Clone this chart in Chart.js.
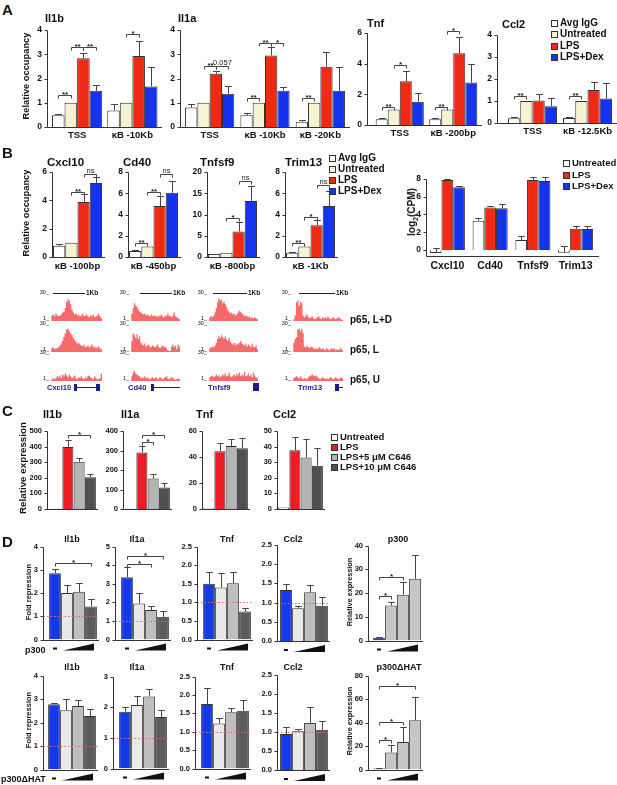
<!DOCTYPE html>
<html>
<head>
<meta charset="utf-8">
<script src="https://cdn.jsdelivr.net/npm/chart.js@4.4.1/dist/chart.umd.min.js"></script>
<style>
  body { margin: 0; width: 617px; height: 785px; position: relative; overflow: hidden; background: #fff;
         font-family: "Liberation Sans", Arial, sans-serif; }
  .t { position: absolute; font-weight: bold; white-space: nowrap; color: #111; line-height: 1; }
  canvas { position: absolute; }
</style>
</head>
<body>
<script>
// ── Data: panel A (ChIP, relative occupancy) ─────────────────────────────────
const A_SERIES   = ['Avg IgG', 'Untreated', 'LPS', 'LPS+Dex'];
const aIl1bCats  = ['TSS', 'κB -10Kb'];
const aIl1bVals  = [[0.48, 0.68], [1, 1], [2.84, 2.93], [1.49, 1.67]];
const aIl1bErr   = [[0.55, 0.93], [1, 1], [3.04, 3.55], [1.72, 2.47]];
const aIl1aCats  = ['TSS', 'κB -10Kb', 'κB -20Kb'];
const aIl1aVals  = [[0.8, 0.48, 0.22], [1, 1, 1], [2.2, 2.95, 2.48], [1.37, 1.5, 1.49]];
const aIl1aErr   = [[0.94, 0.58, 0.3], [1, 1, 1], [2.32, 3.3, 3.1], [1.68, 1.63, 2.48]];
const aTnfCats   = ['TSS', 'κB -200bp'];
const aTnfVals   = [[0.37, 0.37], [1, 1], [2.85, 4.69], [1.52, 2.77]];
const aTnfErr    = [[0.45, 0.48], [1, 1], [3.54, 5.77], [2.08, 3.96]];
const aCcl2Cats  = ['TSS', 'κB -12.5Kb'];
const aCcl2Vals  = [[0.21, 0.22], [1, 1], [1.02, 1.5], [0.76, 1.11]];
const aCcl2Err   = [[0.28, 0.28], [1, 1], [1.32, 1.85], [1.15, 1.8]];

// ── Data: panel B ────────────────────────────────────────────────────────────
const bCxcl10Vals = [[0.8], [1], [3.88], [5.23]];
const bCxcl10Err  = [[0.91], [1], [4.44], [5.65]];
const bCd40Vals   = [[0.56], [1], [4.8], [6.04]];
const bCd40Err    = [[0.65], [1], [5.73], [7.13]];
const bTnfsf9Vals = [[0.7], [1], [6.0], [13.2]];
const bTnfsf9Err  = [[0.8], [1], [8.2], [16.7]];
const bTrim13Vals = [[0.4], [1], [3.0], [4.8]];
const bTrim13Err  = [[0.5], [1], [3.5], [6.2]];

const cpmGenes        = ['Cxcl10', 'Cd40', 'Tnfsf9', 'Trim13'];
const cpmUntreated    = [-0.35, 3.3, 1.13, -0.3];
const cpmLps          = [7.9, 4.8, 7.9, 2.4];
const cpmDex          = [7.07, 4.7, 7.78, 2.36];
const cpmUntreatedErr = [0.25, 3.57, 1.58, 0.49];
const cpmLpsErr       = [7.97, 4.96, 8.27, 2.74];
const cpmDexErr       = [7.18, 5.2, 8.2, 2.74];

// p65 ChIP-seq tracks (signal 1..30)
const cxcl10LD = [0,6,7,5,8,6,5,6,7,9,10,14,20,23,22,18,12,9,7,8,6,7,5,6,8,5,6,7,5,4,6,5,7,4,5,6,8,5,3,0];
const cxcl10L  = [0,4,5,3,4,4,5,7,9,12,16,20,24,25,22,20,18,15,13,11,9,10,8,7,6,8,5,6,7,5,6,8,5,6,4,5,6,4,3,0];
const cxcl10U  = [0,2,3,2,3,5,4,6,3,7,5,8,6,4,7,5,3,4,6,3,2,4,3,5,3,2,4,3,5,6,4,3,2,5,3,2,2,3,8,0];
const cd40LD   = [0,8,14,19,17,15,12,10,9,8,7,8,6,7,6,5,7,6,5,6,5,4,6,5,7,5,4,6,5,8,6,5,4,6,9,5,4,3,2,0];
const cd40L    = [0,12,20,18,15,19,14,17,10,8,7,9,6,7,8,6,5,7,6,5,6,8,5,4,6,7,5,6,4,2,1,1,6,8,5,7,3,8,6,0];
const cd40U    = [0,5,9,11,8,7,6,5,3,4,3,5,3,4,3,2,3,4,3,3,4,2,3,4,3,2,3,4,5,3,2,3,4,3,2,1,2,3,2,0];
const tnfsf9LD = [0,4,5,4,6,9,14,20,24,22,23,19,21,18,15,12,10,8,9,7,8,6,7,9,11,10,8,7,5,6,5,4,5,3,4,3,4,3,2,0];
const tnfsf9L  = [0,4,5,6,5,7,10,14,17,15,18,16,14,17,13,12,15,11,9,8,10,7,9,8,10,12,9,8,7,9,6,8,7,5,9,6,5,7,3,0];
const tnfsf9U  = [0,4,5,6,4,5,7,5,6,4,5,7,6,8,5,6,9,5,4,6,7,5,8,6,9,5,7,6,10,5,6,8,5,7,4,9,6,4,3,0];
const trim13LD = [0,2,6,20,22,16,21,19,6,4,5,7,4,3,4,5,3,2,3,4,5,3,2,4,3,4,3,5,3,2,3,4,3,2,3,4,3,2,1,0];
const trim13L  = [0,10,14,16,24,25,22,25,20,6,5,7,5,4,6,5,4,3,4,3,5,4,3,4,3,2,4,3,2,3,4,3,4,2,3,2,3,4,2,0];
const trim13U  = [0,3,4,5,4,3,5,3,2,3,3,2,4,5,6,7,6,5,6,4,3,2,3,4,3,2,3,2,3,4,3,2,3,4,3,2,3,4,3,0];

// ── Data: panel C (C646) ─────────────────────────────────────────────────────
const C_SERIES  = ['Untreated', 'LPS', 'LPS+5 μM C646', 'LPS+10 μM C646'];
const cIl1b     = [1, 398, 303, 203];
const cIl1bErr  = [1, 445, 330, 225];
const cIl1a     = [1, 290, 157, 110];
const cIl1aErr  = [1, 323, 179, 132];
const cTnf      = [0.6, 44.5, 48.4, 46.8];
const cTnfErr   = [0.6, 50.4, 53.7, 54.6];
const cCcl2     = [1, 37.6, 33, 27.8];
const cCcl2Err  = [1, 46.1, 44.8, 38.8];

// ── Data: panel D (fold repression, p300 / p300ΔHAT dose) ───────────────────
const DOSE      = ['-', 'low', 'mid', 'high'];
const dIl1b     = [2.85, 2.0, 2.05, 1.42];
const dIl1bErr  = [3.03, 2.35, 2.42, 1.73];
const dIl1a     = [3.35, 1.93, 1.58, 1.22];
const dIl1aErr  = [3.92, 2.5, 1.82, 1.52];
const dTnf      = [1.5, 1.4, 1.51, 0.75];
const dTnfErr   = [1.82, 1.8, 1.82, 0.86];
const dCcl2     = [1.33, 0.85, 1.27, 0.92];
const dCcl2Err  = [1.48, 0.9, 1.47, 1.15];
const dP300     = [1.2, 14.7, 19.3, 26];
const dP300Err  = [1.6, 16.3, 24.8, 35.8];
const hIl1b     = [2.78, 2.52, 2.7, 2.28];
const hIl1bErr  = [2.82, 3.02, 2.97, 2.58];
const hIl1a     = [1.85, 2.07, 2.35, 1.68];
const hIl1aErr  = [2.02, 2.37, 2.6, 1.92];
const hTnf      = [1.75, 1.22, 1.53, 1.57];
const hTnfErr   = [2.2, 1.38, 1.65, 1.85];
const hCcl2     = [0.95, 1.02, 1.24, 1.06];
const hCcl2Err  = [1.13, 1.08, 1.66, 1.3];
const hP300     = [0.8, 14.5, 23.5, 42];
const hP300Err  = [1.0, 21, 36, 62];

// ── Colours ──────────────────────────────────────────────────────────────────
const WHITE = '#ffffff', CREAM = '#f7f3d2', RED = '#ef2a14', BLUE = '#1433ee';
const A_COLORS = [WHITE, CREAM, RED, BLUE];
const C_COLORS = [WHITE, '#ee1c24', '#b5b5b5', '#505050'];
const D_COLORS = ['#1639e6', '#e9e9e9', '#bebebe', '#5c5c5c'];
const P_COLORS = ['#1639e6', '#c6c6c6', '#c6c6c6', '#c6c6c6'];
const TRACK = '#f56b6b', NAVY = '#1b1b8a';

Chart.defaults.font.family = '"Liberation Sans", Arial, sans-serif';
Chart.defaults.color = '#111';

// ── Helpers ──────────────────────────────────────────────────────────────────
function label(text, x, y, size, o = {}) {
  const d = document.createElement('div');
  d.className = 't';
  d.innerHTML = text;
  d.style.fontSize = size + 'px';
  d.style.left = x + 'px';
  d.style.top  = (y - size / 2) + 'px';
  if (o.align === 'c') d.style.transform = 'translateX(-50%)';
  if (o.align === 'r') d.style.transform = 'translateX(-100%)';
  if (o.rot) { d.style.top = y + 'px'; d.style.transform = 'translate(-50%, -50%) rotate(-90deg)'; }
  if (o.color)  d.style.color = o.color;
  if (o.normal) d.style.fontWeight = 'normal';
  document.body.appendChild(d);
}

function box(x, y, w, h, bg, border) {
  const b = document.createElement('div');
  b.style.cssText = `position:absolute;left:${x}px;top:${y}px;width:${w}px;height:${h}px;background:${bg};` +
                    (border ? `border:1px solid ${border};` : '');
  document.body.appendChild(b);
}

function legend(x, y0, dy, names, colors, size) {
  names.forEach((n, i) => {
    box(x, y0 + i * dy - 3, 5, 5, colors[i], '#333');
    label(n, x + 9, y0 + i * dy, size);
  });
}

// prism-like axes, error bars, brackets, dotted reference, dose wedge
function prism(cfg, gap) {
  return {
    id: 'prism',
    afterDatasetsDraw(chart) {
      const { ctx, chartArea: a, scales: { y } } = chart;
      const ax = Math.round(a.left - gap) + 0.5;
      const bot = Math.round(a.bottom) + 0.5;
      ctx.save();
      ctx.strokeStyle = '#333';
      ctx.lineWidth = 1;
      ctx.beginPath();
      ctx.moveTo(ax, Math.round(y.getPixelForValue(cfg.max)) + 0.5);
      ctx.lineTo(ax, bot);
      ctx.lineTo(a.right + 2, bot);
      y.ticks.forEach(t => {
        const py = Math.round(y.getPixelForValue(t.value)) + 0.5;
        ctx.moveTo(ax - 3, py); ctx.lineTo(ax, py);
      });
      ctx.stroke();

      if (cfg.ref) {
        ctx.save();
        ctx.strokeStyle = '#e06a6a';
        ctx.setLineDash([1.5, 2]);
        ctx.beginPath();
        const py = Math.round(y.getPixelForValue(cfg.ref)) + 0.5;
        ctx.moveTo(ax, py); ctx.lineTo(a.right + 2, py);
        ctx.stroke();
        ctx.restore();
      }

      ctx.strokeStyle = '#444';
      ctx.beginPath();
      cfg.errs.forEach((row, i) => {
        const meta = chart.getDatasetMeta(i);
        row.forEach((e, j) => {
          const v = cfg.vals[i][j];
          if (e <= v) return;
          const el = meta.data[j];
          const x = Math.round(el.x) + 0.5, cw = el.width * 0.28;
          const y1 = Math.round(y.getPixelForValue(e)) + 0.5;
          ctx.moveTo(x, y.getPixelForValue(v)); ctx.lineTo(x, y1);
          ctx.moveTo(x - cw, y1); ctx.lineTo(x + cw, y1);
        });
      });
      ctx.stroke();

      ctx.textAlign = 'center';
      ctx.textBaseline = 'bottom';
      ctx.fillStyle = '#222';
      (cfg.sig || []).forEach(([s1, c1, s2, c2, v, txt]) => {
        const x1 = Math.round(chart.getDatasetMeta(s1).data[c1].x) + 0.5;
        const x2 = Math.round(chart.getDatasetMeta(s2).data[c2].x) + 0.5;
        const py = Math.round(y.getPixelForValue(v)) + 0.5;
        ctx.beginPath();
        ctx.moveTo(x1, py + 3); ctx.lineTo(x1, py); ctx.lineTo(x2, py); ctx.lineTo(x2, py + 3);
        ctx.stroke();
        const plain = txt === 'ns' || txt === '0.057';
        ctx.font = (plain ? '' : 'bold ') + (plain ? 7.5 : 8) + 'px "Liberation Sans", Arial, sans-serif';
        ctx.fillText(txt, (x1 + x2) / 2, py + (plain ? 0 : 3));
      });

      if (cfg.wedge) {
        const d = chart.getDatasetMeta(0).data;
        ctx.fillStyle = '#111';
        ctx.fillRect(Math.round(d[0].x) - 2, a.bottom + 8, 4, 2);
        const x1 = d[1].x - 4, x2 = d[3].x + 3;
        ctx.beginPath();
        ctx.moveTo(x1, a.bottom + 11); ctx.lineTo(x2, a.bottom + 11); ctx.lineTo(x2, a.bottom + 4);
        ctx.closePath();
        ctx.fill();
      }
      ctx.restore();
    },
  };
}

function barChart(cfg) {
  const yw = 22, pt = 14, pr = 6, xh = cfg.xh || 14;
  const gap = cfg.L - cfg.ax;
  const left = cfg.ax - yw, top = cfg.T - pt;
  const canvas = document.createElement('canvas');
  canvas.width  = Math.round(cfg.R + pr - left);
  canvas.height = Math.round(cfg.B + xh - top);
  canvas.style.left = left + 'px';
  canvas.style.top  = top + 'px';
  document.body.appendChild(canvas);

  const datasets = cfg.vals.map((d, i) => ({
    data: d,
    backgroundColor: cfg.colors[i],
    borderColor: '#333',
    borderWidth: 1,
    barPercentage: 1,
    categoryPercentage: cfg.cp,
  }));

  return new Chart(canvas, {
    type: 'bar',
    data: { labels: cfg.cats, datasets },
    options: {
      responsive: false, animation: false, devicePixelRatio: 1,
      layout: { padding: { top: pt, right: pr, left: 0, bottom: 0 } },
      plugins: { legend: { display: false }, tooltip: { enabled: false } },
      scales: {
        x: {
          grid: { display: false, drawTicks: false }, border: { display: false },
          ticks: { display: !!cfg.showCats, padding: cfg.catPad || 3, autoSkip: false, maxRotation: 0,
                   font: { size: cfg.catSize || 9.5, weight: 'bold' } },
          afterFit: s => { s.height = xh; },
        },
        y: {
          min: cfg.min || 0, max: cfg.max,
          grid: { display: false, drawTicks: false }, border: { display: false },
          ticks: { stepSize: cfg.step, includeBounds: false, padding: gap + 5,
                   font: { size: cfg.tickSize || 8.5, weight: 'bold' },
                   callback: cfg.fmt || (v => v) },
          afterFit: s => { s.width = yw + gap; },
        },
      },
    },
    plugins: [prism(cfg, gap)],
  });
}

function track(vals, left, base, w) {
  const h = 28;
  const canvas = document.createElement('canvas');
  canvas.width = w; canvas.height = h;
  canvas.style.left = left + 'px';
  canvas.style.top  = (base - h) + 'px';
  document.body.appendChild(canvas);
  new Chart(canvas, {
    type: 'line',
    data: { labels: vals.map((_, i) => i),
            datasets: [{ data: vals, stepped: true, fill: 'origin', backgroundColor: TRACK,
                         borderColor: TRACK, borderWidth: 0, pointRadius: 0 }] },
    options: {
      responsive: false, animation: false, devicePixelRatio: 1,
      plugins: { legend: { display: false }, tooltip: { enabled: false } },
      scales: { x: { display: false }, y: { display: false, min: 0, max: 30 } },
    },
  });
}

// ── Panel A ──────────────────────────────────────────────────────────────────
label('A', 2, 9, 15);
barChart({ ax: 47, L: 49.5, R: 159.5, T: 30, B: 127, max: 4, step: 1, cp: 0.91, showCats: true,
  cats: aIl1bCats, vals: aIl1bVals, errs: aIl1bErr, colors: A_COLORS,
  sig: [[0, 0, 1, 0, 1.3, '**'], [1, 0, 2, 0, 3.3, '**'], [2, 0, 3, 0, 3.3, '**'], [1, 1, 2, 1, 3.82, '*']] });
barChart({ ax: 180, L: 182, R: 348, T: 30, B: 127, max: 4, step: 1, cp: 0.89, showCats: true,
  cats: aIl1aCats, vals: aIl1aVals, errs: aIl1aErr, colors: A_COLORS,
  sig: [[1, 0, 2, 0, 2.52, '**'], [2, 0, 3, 0, 2.52, '0.057'], [0, 1, 1, 1, 1.21, '**'],
        [1, 1, 2, 1, 3.45, '**'], [2, 1, 3, 1, 3.45, '*'], [0, 2, 1, 2, 1.21, '**']] });
barChart({ ax: 367, L: 373, R: 480, T: 31, B: 127, max: 6, step: 2, cp: 0.9, showCats: true,
  cats: aTnfCats, vals: aTnfVals, errs: aTnfErr, colors: A_COLORS,
  sig: [[0, 0, 1, 0, 1.19, '**'], [1, 0, 2, 0, 3.92, '*'], [0, 1, 1, 1, 1.19, '**'], [1, 1, 2, 1, 6.15, '*']] });
barChart({ ax: 497, L: 505, R: 615, T: 31, B: 127, max: 4, step: 1, cp: 0.89, showCats: true,
  cats: aCcl2Cats, vals: aCcl2Vals, errs: aCcl2Err, colors: A_COLORS,
  sig: [[0, 0, 1, 0, 1.21, '**'], [0, 1, 1, 1, 1.21, '**']] });

label('Il1b', 45, 18, 11);
label('Il1a', 178, 18, 11);
label('Tnf', 367, 23, 11);
label('Ccl2', 502, 24, 11);
label('Relative occupancy', 27, 76, 9.3, { rot: true });
legend(551, 23, 11.3, A_SERIES, A_COLORS, 10);

// ── Panel B ──────────────────────────────────────────────────────────────────
label('B', 2, 152, 15);
const bCharts = [
  { ax: 52,  cats: ['κB -100bp'], vals: bCxcl10Vals, errs: bCxcl10Err, max: 6,  step: 2,
    sig: [[1, 0, 2, 0, 4.6, '**'], [2, 0, 3, 0, 5.88, 'ns']] },
  { ax: 128, cats: ['κB -450bp'], vals: bCd40Vals,   errs: bCd40Err,   max: 8,  step: 2,
    sig: [[0, 0, 1, 0, 1.35, '**'], [1, 0, 2, 0, 6.1, '**'], [2, 0, 3, 0, 7.85, 'ns']] },
  { ax: 207, cats: ['κB -800bp'], vals: bTnfsf9Vals, errs: bTnfsf9Err, max: 20, step: 5,
    sig: [[1, 0, 2, 0, 9.1, '*'], [2, 0, 3, 0, 18, 'ns']] },
  { ax: 285, cats: ['κB -1Kb'],   vals: bTrim13Vals, errs: bTrim13Err, max: 8,  step: 2,
    sig: [[0, 0, 1, 0, 1.35, '**'], [1, 0, 2, 0, 3.8, '*'], [2, 0, 3, 0, 6.75, 'ns']] },
];
bCharts.forEach(c => barChart({ ...c, L: c.ax, R: c.ax + 51, T: 172, B: 257, cp: 0.96, showCats: true,
  catPad: 4, xh: 16, colors: A_COLORS }));
label('Cxcl10', 47, 163, 11.5);
label('Cd40', 123, 163, 11.5);
label('Tnfsf9', 200, 163, 11.5);
label('Trim13', 285, 163, 11.5);
label('Relative occupancy', 27, 213, 9.3, { rot: true });
legend(329, 158, 11, A_SERIES, A_COLORS, 10);

barChart({ ax: 426, L: 426, R: 597, T: 179, B: 256, min: -0.68, max: 8, step: 2, cp: 0.82, showCats: true,
  catSize: 10.5, catPad: 4, xh: 17, cats: cpmGenes, vals: [cpmUntreated, cpmLps, cpmDex],
  errs: [cpmUntreatedErr, cpmLpsErr, cpmDexErr], colors: [WHITE, RED, BLUE] });
label('log<sub style="font-size:7px">2</sub>(CPM)', 413, 212, 10, { rot: true });
legend(563, 163, 11.5, ['Untreated', 'LPS', 'LPS+Dex'], [WHITE, RED, BLUE], 9.5);

// ChIP-seq browser tracks
const trackBases = [321, 352, 381];
const trackCols = [
  { x: 50,  w: 52, bar: [53, 85],   name: 'Cxcl10', nameX: 47,  sets: [cxcl10LD, cxcl10L, cxcl10U] },
  { x: 130, w: 50, bar: [140, 172], name: 'Cd40',   nameX: 128, sets: [cd40LD, cd40L, cd40U] },
  { x: 208, w: 50, bar: [213, 247], name: 'Tnfsf9', nameX: 208, sets: [tnfsf9LD, tnfsf9L, tnfsf9U] },
  { x: 292, w: 51, bar: [299, 335], name: 'Trim13', nameX: 298, sets: [trim13LD, trim13L, trim13U] },
];
trackCols.forEach(col => {
  col.sets.forEach((vals, k) => {
    track(vals, col.x, trackBases[k], col.w);
    label('30_', col.x - 1, trackBases[k] - 28, 5.5, { align: 'r', normal: true });
    label('1_', col.x - 1, trackBases[k] - 2, 5.5, { align: 'r', normal: true });
  });
  box(col.bar[0], 293, col.bar[1] - col.bar[0], 1, '#222');
  label('1Kb', col.bar[1] + 1, 293, 6.5);
  label(col.name, col.nameX, 388, 7.5, { color: NAVY });
});
// gene models
box(74, 384, 3, 7, NAVY);  box(77, 387, 19, 1, NAVY);  box(96, 384, 4, 7, NAVY);
box(151, 384, 3, 7, NAVY); box(154, 387, 26, 1, NAVY);
box(253, 383, 6, 8, NAVY);
box(335, 384, 4, 7, NAVY); box(339, 387, 4, 1, NAVY);
label('p65, L+D', 350, 320, 10);
label('p65, L', 350, 350, 10);
label('p65, U', 350, 380, 10);

// ── Panel C ──────────────────────────────────────────────────────────────────
label('C', 2, 410, 15);
const cCharts = [
  { ax: 47,  L: 51,  vals: [cIl1b], errs: [cIl1bErr], max: 500, step: 100,
    sig: [[0, 1, 0, 3, 472, '*']] },
  { ax: 123, L: 125, vals: [cIl1a], errs: [cIl1aErr], max: 400, step: 100,
    sig: [[0, 1, 0, 2, 344, '*'], [0, 1, 0, 3, 381, '*']] },
  { ax: 202, L: 203, vals: [cTnf],  errs: [cTnfErr],  max: 60,  step: 20 },
  { ax: 277, L: 278, vals: [cCcl2], errs: [cCcl2Err], max: 50,  step: 10 },
];
cCharts.forEach(c => barChart({ ...c, R: c.L + 45, T: 431, B: 509, cp: 0.98, tickSize: 7.5,
  cats: C_SERIES, colors: [C_COLORS] }));
label('Il1b', 43, 414, 11);
label('Il1a', 121, 414, 11);
label('Tnf', 196, 414, 11);
label('Ccl2', 273, 414, 11);
label('Relative expression', 23, 468, 9.8, { rot: true });
legend(331, 437, 10, C_SERIES, C_COLORS, 9.5);

// ── Panel D ──────────────────────────────────────────────────────────────────
label('D', 2, 541, 15);
const fmt1 = v => v.toFixed(1);
const dRows = [
  { T: 545, B: 641, charts: [
    { ax: 43,  L: 49,  vals: [dIl1b], errs: [dIl1bErr], max: 4,   step: 1,   ref: 1, sig: [[0, 0, 0, 3, 3.3, '*']] },
    { ax: 115, L: 121, vals: [dIl1a], errs: [dIl1aErr], max: 5,   step: 1,   ref: 1,
      sig: [[0, 0, 0, 2, 4.08, '*'], [0, 0, 0, 3, 4.48, '*']] },
    { ax: 197, L: 203, vals: [dTnf],  errs: [dTnfErr],  max: 2.5, step: 0.5, ref: 1, fmt: fmt1 },
    { ax: 277, L: 280, vals: [dCcl2], errs: [dCcl2Err], max: 2.5, step: 0.5, ref: 1, fmt: fmt1 },
    { ax: 368, L: 373, vals: [dP300], errs: [dP300Err], max: 40,  step: 10,  p: true,
      sig: [[0, 0, 0, 1, 18.9, '*'], [0, 0, 0, 2, 26.9, '*']] },
  ] },
  { T: 675, B: 770, charts: [
    { ax: 43,  L: 48,  vals: [hIl1b], errs: [hIl1bErr], max: 4,   step: 1,   ref: 1 },
    { ax: 113, L: 119, vals: [hIl1a], errs: [hIl1aErr], max: 3,   step: 1,   ref: 1 },
    { ax: 195, L: 201, vals: [hTnf],  errs: [hTnfErr],  max: 2.5, step: 0.5, ref: 1, fmt: fmt1 },
    { ax: 277, L: 280, vals: [hCcl2], errs: [hCcl2Err], max: 2.5, step: 0.5, ref: 1, fmt: fmt1 },
    { ax: 368, L: 373, vals: [hP300], errs: [hP300Err], max: 80,  step: 20,  p: true,
      sig: [[0, 0, 0, 1, 25, '*'], [0, 0, 0, 2, 40.3, '*'], [0, 0, 0, 3, 71, '*']] },
  ] },
];
dRows.forEach(row => row.charts.forEach(c => barChart({ ...c, R: c.L + 48, T: row.T, B: row.B, cp: 0.98,
  tickSize: 7.5, wedge: true, cats: DOSE, colors: [c.p ? P_COLORS : D_COLORS] })));

[['Il1b', 72], ['Il1a', 137], ['Tnf', 227], ['Ccl2', 293], ['p300', 398]].forEach(([t, x]) => label(t, x, 539, 9, { align: 'c' }));
[['Il1b', 72], ['Il1a', 137], ['Tnf', 227], ['Ccl2', 293], ['p300ΔHAT', 399]].forEach(([t, x]) => label(t, x, 667, 9, { align: 'c' }));
label('Fold repression', 29, 592, 7.5, { rot: true });
label('Fold repression', 29, 720, 7.5, { rot: true });
label('Relative expression', 350, 592, 7.3, { rot: true });
label('Relative expression', 350, 721, 7.3, { rot: true });
label('p300', 25, 650, 9);
label('p300ΔHAT', 1, 779, 9);
</script>
</body>
</html>
